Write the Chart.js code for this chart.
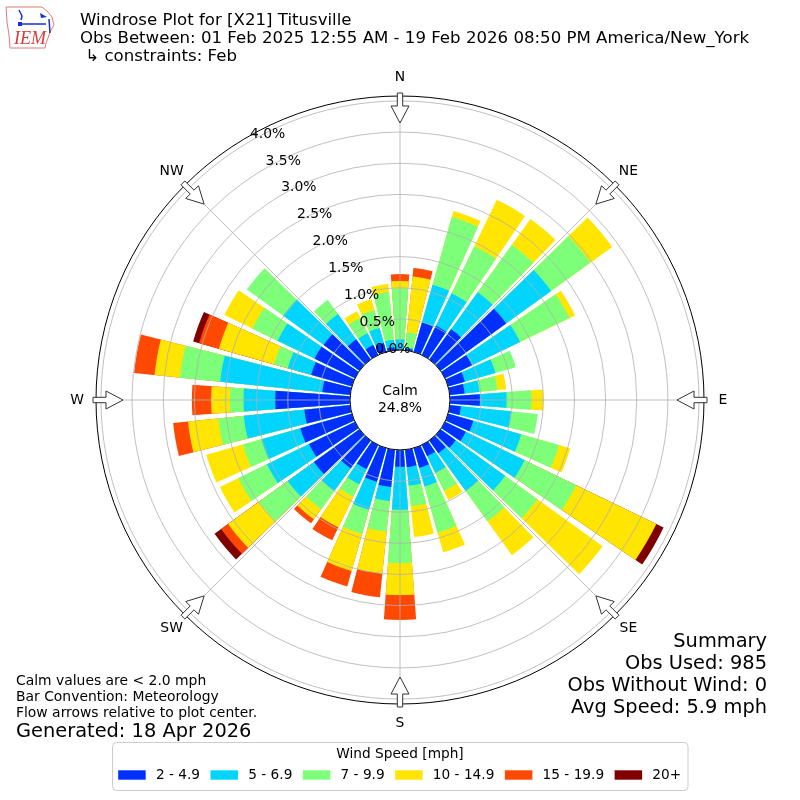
<!DOCTYPE html>
<html>
<head>
<meta charset="utf-8">
<script src="https://cdn.jsdelivr.net/npm/chart.js@4.4.1/dist/chart.umd.min.js"></script>
<style>
  html, body { margin: 0; padding: 0; background: #fff; }
  #wrap { width: 800px; height: 800px; }
</style>
</head>
<body>
<div id="wrap"><canvas id="rose" width="800" height="800"></canvas></div>
<script>
// wind direction (deg, where the wind blows from) and % of obs per speed bin
const directions = [0, 10, 20, 30, 40, 50, 60, 70, 80, 90, 100, 110, 120, 130, 140, 150, 160, 170,
                    180, 190, 200, 210, 220, 230, 240, 250, 260, 270, 280, 290, 300, 310, 320, 330, 340, 350];
const speedBins = ['2 - 4.9', '5 - 6.9', '7 - 9.9', '10 - 14.9', '15 - 19.9', '20+'];
const binColors = ['#0030ff', '#00d4ff', '#7dff7a', '#ffe500', '#ff4800', '#800000'];

const pct2to5   = [0.02, 0.03, 0.49, 0.52, 0.60, 1.30, 0.48, 0.28, 0.24, 0.48, 0.18, 0.42, 0.37, 0.30, 0.25, 0.20, 0.33, 0.28,
                   0.27, 0.60, 0.56, 0.43, 0.55, 0.90, 0.82, 0.86, 0.74, 1.20, 0.45, 0.68, 0.72, 0.71, 0.40, 0.18, 0.15, 0.05];
const pct5to7   = [0.15, 0.02, 0.63, 0.58, 0.73, 0.89, 0.86, 0.51, 0.24, 0.43, 0.81, 0.80, 1.05, 0.98, 0.75, 0.30, 0.31, 0.30,
                   0.69, 0.23, 0.47, 0.27, 0.45, 0.52, 0.75, 0.65, 0.98, 0.51, 1.65, 0.39, 0.66, 0.80, 0.50, 0.21, 0.25, 0.12];
const pct7to10  = [0.82, 0.24, 1.13, 0.84, 0.94, 0.78, 0.88, 0.34, 0.29, 0.40, 0.43, 0.63, 0.92, 0.64, 0.60, 0.32, 0.77, 0.33,
                   0.86, 0.49, 0.40, 0.22, 0.36, 0.57, 0.51, 0.31, 0.41, 0.22, 0.65, 0.23, 0.45, 0.72, 0.28, 0.27, 0.30, 0.77];
const pct10to15 = [0.12, 0.90, 0.10, 0.83, 0.51, 0.43, 0.10, 0.00, 0.14, 0.19, 0.00, 0.19, 1.43, 1.29, 0.67, 0.16, 0.33, 0.50,
                   0.51, 0.68, 0.62, 0.55, 0.20, 0.61, 0.33, 0.61, 0.49, 0.30, 0.41, 0.92, 0.50, 0.00, 0.00, 0.12, 0.18, 0.13];
const pct15to20 = [0.11, 0.14, 0.00, 0.00, 0.00, 0.00, 0.00, 0.00, 0.00, 0.00, 0.00, 0.00, 0.00, 0.00, 0.00, 0.00, 0.00, 0.00,
                   0.40, 0.38, 0.26, 0.23, 0.08, 0.14, 0.00, 0.00, 0.24, 0.31, 0.33, 0.33, 0.00, 0.00, 0.00, 0.00, 0.00, 0.00];
const pct20up   = [0.00, 0.00, 0.00, 0.00, 0.00, 0.00, 0.00, 0.00, 0.00, 0.00, 0.00, 0.00, 0.13, 0.00, 0.00, 0.00, 0.00, 0.00,
                   0.00, 0.00, 0.00, 0.00, 0.00, 0.13, 0.00, 0.00, 0.00, 0.00, 0.00, 0.10, 0.00, 0.00, 0.00, 0.00, 0.00, 0.00];

const ringValues = [0, 0.5, 1, 1.5, 2, 2.5, 3, 3.5, 4];
const ringLabels = ['0.0%', '0.5%', '1.0%', '1.5%', '2.0%', '2.5%', '3.0%', '3.5%', '4.0%'];
const compassPoints = ['N', 'NE', 'E', 'SE', 'S', 'SW', 'W', 'NW'];
const calmPct = 24.8;

const titleLines = [
  'Windrose Plot for [X21] Titusville',
  'Obs Between: 01 Feb 2025 12:55 AM - 19 Feb 2026 08:50 PM America/New_York',
  ' \u21b3 constraints: Feb'
];
const noteLines = ['Calm values are < 2.0 mph', 'Bar Convention: Meteorology', 'Flow arrows relative to plot center.'];
const summaryLines = ['Summary', 'Obs Used: 985', 'Obs Without Wind: 0', 'Avg Speed: 5.9 mph'];

const series = [pct2to5, pct5to7, pct7to10, pct10to15, pct15to20, pct20up];
const barAngle = 8.4;
const gapAngle = 10 - barAngle;
// radius 0 of the data sits on the edge of the calm circle
const rMin = -0.803;
const rMax = 4.08;
const FONT = '"DejaVu Sans", sans-serif';

// every direction gets a bar slot and then an empty gap slot
const slotLabels = [];
directions.forEach(d => { slotLabels.push(d + '\u00b0'); slotLabels.push(''); });

// running totals, so each bin is painted over the faster ones
const datasets = series.map((vals, k) => {
  const data = [];
  directions.forEach((d, i) => {
    let sum = 0;
    for (let j = 0; j <= k; j++) sum += series[j][i];
    data.push(+sum.toFixed(3));
    data.push(0);
  });
  return {
    label: speedBins[k],
    data: data,
    borderWidth: 0,
    backgroundColor: ctx => (ctx.index % 2 === 0 && vals[ctx.index / 2] > 0) ? binColors[k] : 'rgba(0,0,0,0)',
    angle: ctx => ctx.index % 2 === 0 ? barAngle : gapAngle
  };
});

function arrowPath(ctx, cx, cy, deg, R) {
  const a = deg * Math.PI / 180;
  const ux = Math.sin(a), uy = -Math.cos(a);
  const px = Math.cos(a), py = Math.sin(a);
  const pts = [[R + 3, -2.7], [R - 10, -2.7], [R - 10, -9], [R - 27, 0], [R - 10, 9], [R - 10, 2.7], [R + 3, 2.7]];
  ctx.beginPath();
  pts.forEach((p, i) => {
    const x = cx + ux * p[0] + px * p[1];
    const y = cy + uy * p[0] + py * p[1];
    if (i === 0) ctx.moveTo(x, y); else ctx.lineTo(x, y);
  });
  ctx.closePath();
}

const roseDecor = {
  id: 'roseDecor',
  beforeDraw(chart) {
    const ctx = chart.ctx;
    ctx.save();
    ctx.fillStyle = '#fff';
    ctx.fillRect(0, 0, chart.width, chart.height);
    ctx.restore();
  },
  afterDatasetsDraw(chart) {
    const ctx = chart.ctx;
    const sc = chart.scales.r;
    const cx = sc.xCenter, cy = sc.yCenter;
    const rad = v => sc.getDistanceFromCenterForValue(v);
    const r0 = rad(0), rOut = rad(rMax);
    ctx.save();

    // grid rings and spokes go over the bars
    ctx.strokeStyle = '#b0b0b0';
    ctx.lineWidth = 0.8;
    ringValues.forEach(v => {
      ctx.beginPath();
      ctx.arc(cx, cy, rad(v), 0, Math.PI * 2);
      ctx.stroke();
    });
    for (let i = 0; i < 8; i++) {
      const a = i * Math.PI / 4;
      ctx.beginPath();
      ctx.moveTo(cx + Math.sin(a) * r0, cy - Math.cos(a) * r0);
      ctx.lineTo(cx + Math.sin(a) * rOut, cy - Math.cos(a) * rOut);
      ctx.stroke();
    }
    ctx.strokeStyle = '#000';
    ctx.lineWidth = 1;
    ctx.beginPath();
    ctx.arc(cx, cy, rOut, 0, Math.PI * 2);
    ctx.stroke();

    // calm disc
    ctx.fillStyle = '#fff';
    ctx.beginPath();
    ctx.arc(cx, cy, r0, 0, Math.PI * 2);
    ctx.fill();
    ctx.stroke();
    ctx.fillStyle = '#000';
    ctx.font = '13.9px ' + FONT;
    ctx.textAlign = 'center';
    ctx.textBaseline = 'middle';
    ctx.fillText('Calm', cx, cy - 9);
    ctx.fillText(calmPct.toFixed(1) + '%', cx, cy + 8);

    // ring labels along the NNW ray
    const la = 30.2 * Math.PI / 180;
    ringValues.forEach((v, i) => {
      const d = rad(v);
      ctx.fillText(ringLabels[i], cx - Math.sin(la) * d + 18, cy - Math.cos(la) * d - 7.5);
    });

    // flow arrows and compass labels
    compassPoints.forEach((name, i) => {
      const deg = i * 45;
      arrowPath(ctx, cx, cy, deg, rOut);
      ctx.fillStyle = '#fff';
      ctx.fill();
      ctx.strokeStyle = '#333';
      ctx.lineWidth = 1;
      ctx.stroke();
      const a = deg * Math.PI / 180;
      ctx.fillStyle = '#000';
      ctx.fillText(name, cx + Math.sin(a) * (rOut + 19), cy - Math.cos(a) * (rOut + 19));
    });
    ctx.restore();
  },
  afterDraw(chart) {
    const ctx = chart.ctx;
    ctx.save();
    ctx.fillStyle = '#000';
    ctx.textBaseline = 'alphabetic';

    // header
    ctx.textAlign = 'left';
    ctx.font = '16.6px ' + FONT;
    titleLines.forEach((t, i) => ctx.fillText(t, 80, 25 + i * 18));

    // IEM logo (rough)
    ctx.strokeStyle = '#e07a7a';
    ctx.lineWidth = 1;
    ctx.beginPath();
    ctx.moveTo(6, 7); ctx.lineTo(42, 7); ctx.lineTo(47, 11); ctx.lineTo(52, 17);
    ctx.lineTo(54, 25); ctx.lineTo(50, 32); ctx.lineTo(48, 38); ctx.lineTo(46, 43);
    ctx.lineTo(45, 48); ctx.lineTo(10, 48); ctx.lineTo(9, 35); ctx.lineTo(7, 22); ctx.closePath();
    ctx.stroke();
    ctx.strokeStyle = '#1a2fd0';
    ctx.fillStyle = '#1a2fd0';
    ctx.lineWidth = 1.5;
    ctx.beginPath();
    ctx.moveTo(19, 10); ctx.lineTo(22, 16); ctx.lineTo(21, 20);
    ctx.moveTo(22, 24); ctx.lineTo(46, 24);
    ctx.moveTo(49, 19); ctx.lineTo(50, 33);
    ctx.stroke();
    ctx.beginPath();
    ctx.moveTo(40, 13); ctx.lineTo(47, 17); ctx.lineTo(41, 18); ctx.closePath();
    ctx.fill();
    ctx.fillRect(18, 22, 4, 4);
    ctx.fillStyle = '#d83a3a';
    ctx.font = 'italic 18px "Liberation Serif", serif';
    ctx.fillText('IEM', 14, 44);

    // notes, bottom left
    ctx.fillStyle = '#000';
    ctx.font = '13.9px ' + FONT;
    noteLines.forEach((t, i) => ctx.fillText(t, 16, 685 + i * 16));
    ctx.font = '19.4px ' + FONT;
    ctx.fillText('Generated: 18 Apr 2026', 16, 737);

    // summary, bottom right
    ctx.textAlign = 'right';
    summaryLines.forEach((t, i) => ctx.fillText(t, 767, 647 + i * 22));

    // legend
    const bx = 112.5, by = 742.5, bw = 575.5, bh = 48;
    ctx.fillStyle = 'rgba(255,255,255,0.8)';
    ctx.strokeStyle = '#cccccc';
    ctx.lineWidth = 1;
    ctx.beginPath();
    ctx.roundRect(bx, by, bw, bh, 4);
    ctx.fill();
    ctx.stroke();
    ctx.fillStyle = '#000';
    ctx.font = '13.7px ' + FONT;
    ctx.textAlign = 'center';
    ctx.textBaseline = 'middle';
    ctx.fillText('Wind Speed [mph]', 400, 754);
    ctx.textAlign = 'left';
    let x = 118.2;
    chart.data.datasets.forEach((ds, k) => {
      ctx.fillStyle = binColors[k];
      ctx.fillRect(x, 770.3, 27.5, 9.4);
      ctx.fillStyle = '#000';
      ctx.fillText(ds.label, x + 37.7, 775.5);
      x += 37.7 + ctx.measureText(ds.label).width + 10.5;
    });
    ctx.restore();
  }
};

new Chart(document.getElementById('rose'), {
  type: 'polarArea',
  data: { labels: slotLabels, datasets: datasets },
  options: {
    responsive: false,
    devicePixelRatio: 1,
    animation: false,
    layout: { padding: 96 },
    scales: {
      r: {
        min: rMin,
        max: rMax,
        startAngle: -barAngle / 2,
        grid: { display: false },
        angleLines: { display: false },
        ticks: { display: false },
        pointLabels: { display: false }
      }
    },
    plugins: {
      legend: { display: false },
      tooltip: { enabled: false }
    }
  },
  plugins: [roseDecor]
});
</script>
</body>
</html>
